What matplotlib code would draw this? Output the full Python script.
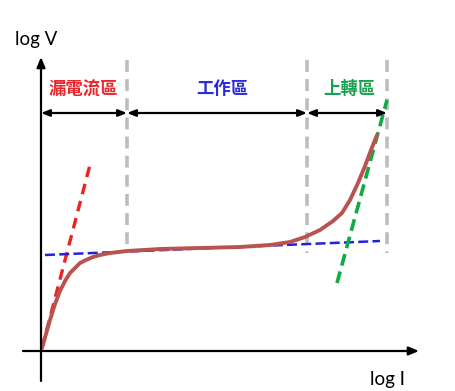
import matplotlib
matplotlib.use("Agg")
import matplotlib.pyplot as plt

# Chart values, in picture pixels (x right, y down)
curve_x = [42, 46, 50, 55, 60, 65, 70, 75, 80, 86, 93, 100, 110, 127, 160, 200, 240, 270,
           290, 305, 320, 333, 342, 350, 358, 365, 371, 377]
curve_y = [348, 334, 320, 304, 291, 281, 273, 268, 263, 260, 257, 255, 253, 251, 249, 248, 247, 245,
           242, 237, 230, 221, 213, 200, 183, 166, 150, 135]

leak_x = [42, 91]
leak_y = [348, 161]
work_x = [45, 380]
work_y = [255, 241]
up_x = [337, 387]
up_y = [283, 100]

bounds = [41, 127, 307, 387]
region_labels = ["漏電流區", "工作區", "上轉區"]
region_colors = ["#E8262B", "#2B2BD9", "#17A24D"]

RED, BLUE, GREEN, BROWN, GRAY = "#EE2222", "#2222DD", "#11AA44", "#B9534F", "#BDBDBD"

fig = plt.figure(figsize=(4.55, 3.91), dpi=100)
ax = fig.add_axes([0, 0, 1, 1])
ax.set_xlim(0, 455)
ax.set_ylim(391, 0)
ax.axis("off")

# gray region separators
for x in bounds[1:]:
    ax.plot([x, x], [60, 253], color=GRAY, lw=2.6, dashes=(3.3, 2.0), solid_capstyle="butt")

# axes with arrows
ax.annotate("", xy=(41, 57), xytext=(41, 381),
            arrowprops=dict(arrowstyle="-|>,head_length=0.6,head_width=0.25", color="black",
                            lw=1.6, shrinkA=0, shrinkB=0))
ax.annotate("", xy=(419, 351), xytext=(23, 351),
            arrowprops=dict(arrowstyle="-|>,head_length=0.6,head_width=0.25", color="black",
                            lw=1.6, shrinkA=0, shrinkB=0))

# tangent lines
ax.plot(leak_x, leak_y, color=RED, lw=2.4, dashes=(3.2, 2.1))
ax.plot(work_x, work_y, color=BLUE, lw=1.8, dashes=(4, 1.7))
ax.plot(up_x, up_y, color=GREEN, lw=2.6, dashes=(3.3, 1.7))

# V-I curve
ax.plot(curve_x, curve_y, color=BROWN, lw=2.8, solid_capstyle="round", solid_joinstyle="round")

# region double arrows and labels
for i in range(3):
    x0, x1 = bounds[i], bounds[i + 1]
    ax.annotate("", xy=(x1, 113), xytext=(x0, 113),
                arrowprops=dict(arrowstyle="<|-|>,head_length=0.5,head_width=0.2", color="black",
                                lw=1.6, shrinkA=0, shrinkB=0))
label_x = [83, 222, 349]
for lx, txt, c in zip(label_x, region_labels, region_colors):
    ax.text(lx, 89, txt, color=c, fontsize=12.5, fontweight="bold", ha="center", va="center",
            family=["Noto Sans CJK TC", "DejaVu Sans"])

ax.text(36, 39, "log V", fontsize=13.5, ha="center", va="center", family="Lato")
ax.text(388, 379, "log I", fontsize=13.5, ha="center", va="center", family="Lato")

fig.savefig("out.png", dpi=100)
